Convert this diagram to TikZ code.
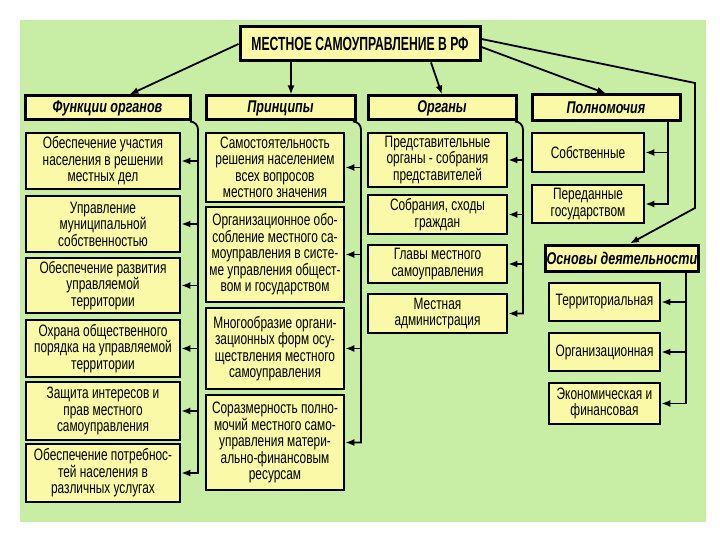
\documentclass[tikz,border=0pt]{standalone}
\usepackage{fontspec}
\setmainfont{Liberation Sans}[FakeStretch=0.72]
\newfontfamily\titlefont{Liberation Sans}[FakeStretch=0.64]
\newfontfamily\headfont{Liberation Sans}[FakeStretch=0.74]
\usetikzlibrary{arrows.meta}
\definecolor{bggreen}{RGB}{200,238,166}
\definecolor{boxyel}{RGB}{249,249,168}
\begin{document}
\begin{tikzpicture}[x=1pt,y=-1pt,
  bx/.style={draw=black, line width=2.6pt, fill=boxyel, align=center, inner sep=1pt,
    font=\fontsize{16.5}{16.5}\selectfont},
  hd/.style={bx, line width=3pt, font=\headfont\fontsize{17}{18}\selectfont\bfseries\itshape},
  ln/.style={line width=1.8pt, draw=black},
  arr/.style={ln, -{Latex[length=9pt,width=7pt]}},
]
\fill[white] (0,0) rectangle (720,540);
\useasboundingbox (0,0) rectangle (720,540);
\fill[bggreen] (20,20) rectangle (706,522);

% title
\node[hd, font=\titlefont\fontsize{19}{20}\selectfont\bfseries, minimum width=240pt, minimum height=34pt] (t) at (360,44) {МЕСТНОЕ САМОУПРАВЛЕНИЕ В РФ};

% headers
\node[hd, minimum width=165pt, minimum height=24pt] (f0) at (107.5,108) {Функции органов};
\node[hd, minimum width=149pt, minimum height=24pt] (p0) at (280.5,108) {Принципы};
\node[hd, minimum width=148pt, minimum height=24pt] (o0) at (442,108) {Органы};
\node[hd, minimum width=148pt, minimum height=26pt] (n0) at (606,108) {Полномочия};
\node[hd, minimum width=148pt, minimum height=26pt] (b0) at (622,258) {Основы деятельности};

% functions
\node[bx, minimum width=154pt, minimum height=56pt] (f1) at (103,161) {Обеспечение участия\\населения в решении\\местных дел};
\node[bx, minimum width=154pt, minimum height=56pt] (f2) at (103,224) {Управление\\муниципальной\\собственностью};
\node[bx, minimum width=154pt, minimum height=55pt] (f3) at (103,285.5) {Обеспечение развития\\управляемой\\территории};
\node[bx, minimum width=154pt, minimum height=57pt] (f4) at (103,348.5) {Охрана общественного\\порядка на управляемой\\территории};
\node[bx, minimum width=154pt, minimum height=58pt] (f5) at (103,411) {Защита интересов и\\прав местного\\самоуправления};
\node[bx, minimum width=154pt, minimum height=58pt] (f6) at (103,473) {Обеспечение потребнос-\\тей населения в\\различных услугах};

% principles
\node[bx, minimum width=138pt, minimum height=69pt] (p1) at (275,167.5) {Самостоятельность\\решения населением\\всех вопросов\\местного значения};
\node[bx, minimum width=138pt, minimum height=95pt] (p2) at (275,254.5) {Организационное обо-\\собление местного са-\\моуправления в систе-\\ме управления общест-\\вом и государством};
\node[bx, minimum width=138pt, minimum height=81pt] (p3) at (275,348.5) {Многообразие органи-\\зационных форм осу-\\ществления местного\\самоуправления};
\node[bx, minimum width=138pt, minimum height=95pt] (p4) at (275,442.5) {Соразмерность полно-\\мочий местного само-\\управления матери-\\ально-финансовым\\ресурсам};

% organs
\node[bx, minimum width=139pt, minimum height=54pt] (o1) at (437.5,160) {Представительные\\органы - собрания\\представителей};
\node[bx, minimum width=139pt, minimum height=39pt] (o2) at (437.5,214.5) {Собрания, сходы\\граждан};
\node[bx, minimum width=139pt, minimum height=38pt] (o3) at (437.5,264) {Главы местного\\самоуправления};
\node[bx, minimum width=139pt, minimum height=39pt] (o4) at (437.5,313.5) {Местная\\администрация};

% powers
\node[bx, minimum width=112pt, minimum height=39pt] (n1) at (588,152.5) {Собственные};
\node[bx, minimum width=112pt, minimum height=38pt] (n2) at (588,204) {Переданные\\государством};

% foundations
\node[bx, minimum width=111pt, minimum height=38pt] (b1) at (604.5,302) {Территориальная};
\node[bx, minimum width=111pt, minimum height=38pt] (b2) at (604.5,352) {Организационная};
\node[bx, minimum width=111pt, minimum height=41pt] (b3) at (604.5,403.5) {Экономическая и\\финансовая};

% title arrows
\draw[arr] (t.west) -- ([xshift=22pt]f0.north);
\draw[arr] ([xshift=-69pt]t.south) -- ([xshift=-69pt]t.south |- p0.north);
\draw[arr] ([xshift=71pt]t.south) -- (o0.north);
\draw[arr] ([yshift=-3pt]t.east) -- (n0.north);
\coordinate (rt1) at (695,83);
\coordinate (rt2) at (695,208);
\draw[arr] ([yshift=5pt]t.east) -- (rt1) -- (rt2) -- ([xshift=8pt]b0.north);

% functions connectors
\coordinate (ft) at (198,140);
\draw[arr] [rounded corners=8pt] (f0.south east) -| (ft) [sharp corners] -- (ft |- f6.east) -- (f6.east);
\foreach \n in {f1,f2,f3,f4,f5} \draw[arr] (\n.east -| ft) -- (\n.east);

% principles connectors
\coordinate (pt) at (361,140);
\draw[arr] [rounded corners=8pt] (p0.south east) -| (pt) [sharp corners] -- (pt |- p4.east) -- (p4.east);
\foreach \n in {p1,p2,p3} \draw[arr] (\n.east -| pt) -- (\n.east);

% organs connectors
\coordinate (ot) at (523,140);
\draw[arr] [rounded corners=8pt] (o0.south east) -| (ot) [sharp corners] -- (ot |- o4.east) -- (o4.east);
\foreach \n in {o1,o2,o3} \draw[arr] (\n.east -| ot) -- (\n.east);

% powers connectors
\coordinate (nt) at (668,0);
\draw[arr] (nt |- n0.south) -- (nt |- n2.east) -- (n2.east);
\draw[arr] (n1.east -| nt) -- (n1.east);

% foundations connectors
\coordinate (bt) at (686,0);
\draw[arr] (bt |- b0.south) -- (bt |- b3.east) -- (b3.east);
\foreach \n in {b1,b2} \draw[arr] (\n.east -| bt) -- (\n.east);
\end{tikzpicture}
\end{document}
